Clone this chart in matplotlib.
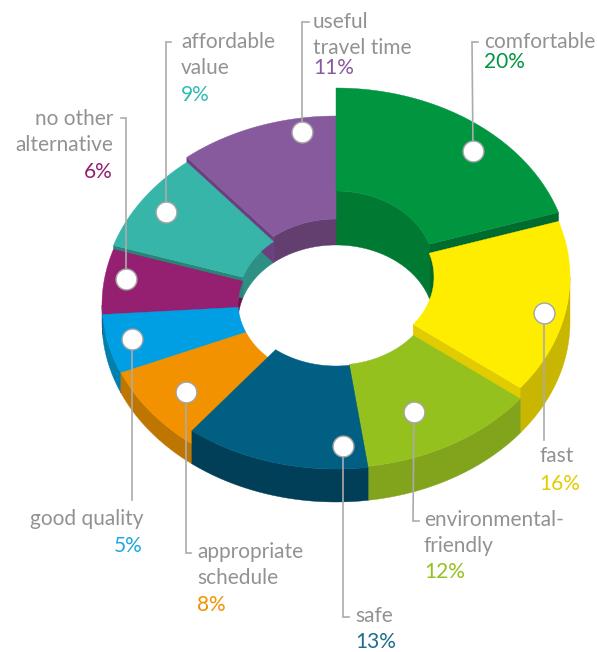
import numpy as np
import matplotlib
matplotlib.use("Agg")
import matplotlib.pyplot as plt
from matplotlib.patches import Polygon

plt.rcParams['font.family'] = ['Lato', 'DejaVu Sans']

# Slices run clockwise from 12 o'clock
names = ["comfortable", "fast", "environmental-\nfriendly", "safe", "appropriate\nschedule",
         "good quality", "no other\nalternative", "affordable\nvalue", "useful\ntravel time"]
values = [20, 16, 12, 13, 8, 5, 6, 9, 11]
# unrounded shares as read from the slice boundaries, the labels round these
shares = [20, 15.56, 12.25, 12.75, 8, 5.33, 6.11, 9, 11]

top_colors = ["#00963F", "#FFED00", "#95C11F", "#005F83", "#F39200", "#009FE3", "#951F71", "#38B5A9", "#875A9E"]
wall_colors = ["#007A33", "#C9B600", "#81A41C", "#003F57", "#BE7600", "#0080AD", "#6B1050", "#2E8F84", "#633F70"]
side_colors = ["#006B2E", "#E0CC00", "#81A41C", "#003F57", "#BE7600", "#0080AD", "#6B1050", "#2A8578", "#6E3F80"]
pct_colors = ["#009640", "#E3CC00", "#95C11F", "#1F6E90", "#F39200", "#1EA7E4", "#951F71", "#2FBDB0", "#875A9E"]

# Pixel y of the centre of each slice's top face (each one sits at its own height)
levels = [268, 277, 288, 289, 302, 302, 305, 301, 296]
base_y = 322
cx = 336
rx_out, ry_out = 234, 180
rx_in, ry_in = 98, 77

# Label dots, leader ends and text anchors, in picture pixels
dots = [(473, 151), (544, 313), (414, 412), (343, 446), (186, 392), (132, 339), (126, 279), (166, 212), (302, 132)]
leader_ends = [(472, 42, 478), (544, 440, None), (413, 521, 419), (343, 617, 349), (186, 553, 191),
               (132, 500, None), (126, 118, 121), (166, 42, 171), (302, 22, 309)]
name_pos = [(484, 48, "left"), (539, 462, "left"), (424, 526, "left"), (355, 622, "left"), (197, 558, "left"),
            (143, 525, "right"), (113, 125, "right"), (181, 48, "left"), (313, 28, "left")]
pct_pos = [(484, 68, "left"), (539, 490, "left"), (424, 578, "left"), (355, 648, "left"), (197, 611, "left"),
           (143, 552, "right"), (113, 178, "right"), (181, 101, "left"), (313, 74, "left")]

TEXT_GRAY = "#929294"
LINE_GRAY = "#ABABAB"
FONT_SIZE = 15
LINE_STEP = 26


def arc(t1, t2, rx, ry, cy):
    t = np.radians(np.linspace(t1, t2, 80))
    return np.column_stack([cx + rx * np.cos(t), cy - ry * np.sin(t)])


def fill(ax, pts, color):
    ax.add_patch(Polygon(pts, closed=True, facecolor=color, edgecolor=color, linewidth=0.3))


fig = plt.figure(figsize=(5.97, 6.52), dpi=100)
ax = fig.add_axes([0, 0, 1, 1])
ax.set_xlim(0, 597)
ax.set_ylim(652, 0)
ax.axis("off")

edges = 90 - np.cumsum([0] + shares) * 3.6
slices = [(edges[i], edges[i + 1], i) for i in range(len(shares))]

# inner walls of the hole, back half only
for t1, t2, i in slices:
    for shift in (0, 360):
        lo, hi = max(t2 + shift, 0), min(t1 + shift, 180)
        if hi > lo:
            fill(ax, np.vstack([arc(lo, hi, rx_in, ry_in, levels[i]),
                                arc(hi, lo, rx_in, ry_in, base_y)]), wall_colors[i])

# back to front
order = sorted(slices, key=lambda s: -np.sin(np.radians((s[0] + s[1]) / 2)))
for t1, t2, i in order:
    cy = levels[i]
    # cut faces that look towards the viewer
    for t, facing in [(t2, np.cos(np.radians(t2)) > 0), (t1, np.cos(np.radians(t1)) < 0)]:
        if facing:
            c, s = np.cos(np.radians(t)), np.sin(np.radians(t))
            inner = (cx + rx_in * c, ry_in * s)
            outer = (cx + rx_out * c, ry_out * s)
            fill(ax, [(inner[0], cy - inner[1]), (outer[0], cy - outer[1]),
                      (outer[0], base_y - outer[1]), (inner[0], base_y - inner[1])], side_colors[i])
    # outer wall, front half only
    for shift in (0, -360):
        lo, hi = max(t2 + shift, -180), min(t1 + shift, 0)
        if hi > lo:
            fill(ax, np.vstack([arc(lo, hi, rx_out, ry_out, cy),
                                arc(hi, lo, rx_out, ry_out, base_y)]), wall_colors[i])
    fill(ax, np.vstack([arc(t1, t2, rx_out, ry_out, cy), arc(t2, t1, rx_in, ry_in, cy)]), top_colors[i])

# leaders, dots and labels
for i in range(len(values)):
    x, y = dots[i]
    lx, ly, tick = leader_ends[i]
    xs, ys = [x, lx], [y, ly]
    if tick is not None:
        xs.append(tick)
        ys.append(ly)
    ax.plot(xs, ys, color=LINE_GRAY, lw=1.2, solid_joinstyle="miter", zorder=5)
    ax.plot([x], [y], "o", ms=15, mfc="white", mec="#A5A5A5", mew=1.0, zorder=6)

    nx, ny, ha = name_pos[i]
    for j, line in enumerate(names[i].split("\n")):
        ax.text(nx, ny + j * LINE_STEP, line, color=TEXT_GRAY, fontsize=FONT_SIZE,
                ha=ha, va="baseline", zorder=7)
    px, py, ha = pct_pos[i]
    ax.text(px, py, f"{values[i]}%", color=pct_colors[i], fontsize=FONT_SIZE,
            ha=ha, va="baseline", zorder=7)

fig.savefig("out.png", dpi=100)
